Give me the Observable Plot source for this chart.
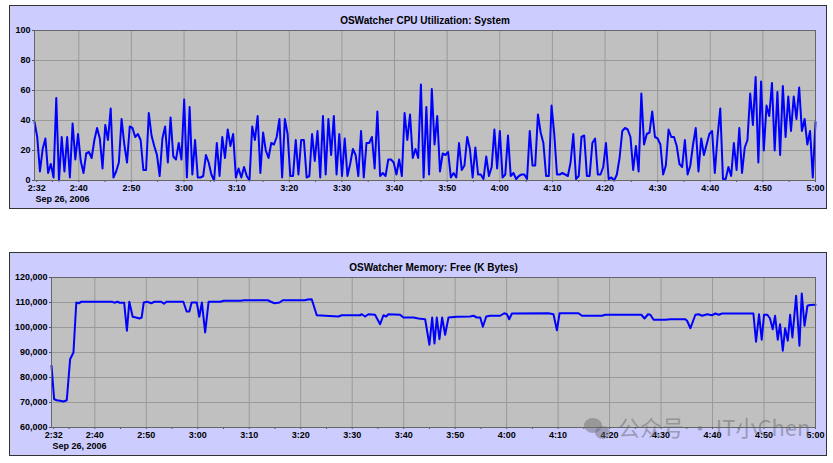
<!DOCTYPE html>
<html><head><meta charset="utf-8">
<script src="https://cdn.jsdelivr.net/npm/d3@7"></script>
<script src="https://cdn.jsdelivr.net/npm/@observablehq/plot@0.6"></script>
<style>
body{margin:0;background:#fff;width:833px;height:463px;position:relative;overflow:hidden;font-family:"Liberation Sans",Arial,sans-serif;}
.panel{position:absolute;left:9px;width:818px;height:204px;box-sizing:border-box;border:1px solid #333;background:#ccccff;}
.panel svg{position:absolute;left:0;top:0;}
#wm{position:absolute;left:618px;top:414px;font-family:"Noto Sans CJK SC",sans-serif;font-size:22px;line-height:24px;color:rgba(105,105,105,0.5);white-space:nowrap;}
.wmc{position:absolute;border-radius:50%;background:rgba(105,105,105,0.45);}
</style></head><body>
<div class="panel" id="p1" style="top:5px"></div>
<div class="panel" id="p2" style="top:252px"></div>
<div class="wmc" style="left:584px;top:418px;width:18px;height:15px"></div>
<div class="wmc" style="left:595px;top:426px;width:15px;height:13px"></div>
<div id="wm">公众号 · IT小Chen</div>
<script>
// ---------- data ----------
const chartDate = "Sep 26, 2006";
const cpuTitle = "OSWatcher CPU Utilization: System";
const memTitle = "OSWatcher Memory: Free (K Bytes)";
const cpuFirst = "2:31:35";   // first sample (left edge)
const cpuLast = "5:00:00";    // last sample (right edge)
const cpuValues = [
39,29,6,21,28,5,11,2,55,0,
29,6,29,2,38,14,31,13,5,18,
19,15,27,35,28,8,37,27,48,2,
6,12,41,24,12,36,35,29,31,27,
7,7,45,30,23,17,3,28,36,12,
42,16,14,25,14,54,2,49,4,27,
2,2,3,17,12,4,0,25,3,29,
15,34,23,31,2,8,2,9,3,0,
36,27,43,5,32,20,15,25,24,29,
41,2,41,31,3,3,27,4,27,27,
2,3,31,13,33,2,43,4,41,17,
43,4,31,3,28,3,11,21,17,3,
33,2,25,25,29,8,46,3,5,3,
14,14,12,4,14,3,45,27,44,15,
21,15,
64,2,49,4,61,24,43,6,18,17,
19,2,5,2,25,7,10,29,21,2,
22,4,4,1,16,3,9,34,8,33,
2,4,30,3,5,1,3,4,4,1,
33,10,10,44,32,25,3,3,50,31,
4,4,5,4,3,12,31,1,3,29,
30,3,3,25,28,4,4,9,25,1,
2,0,4,15,33,35,34,29,7,23,
6,58,24,31,32,46,29,28,24,4,
10,34,29,29,23,11,9,27,4,10,
24,35,6,28,17,24,31,33,5,29,
48,1,1,9,3,25,7,35,5,22,
27,58,37,69,12,66,20,50,43,65,
20,59,17,63,29,56,33,56,41,62,
33,41,24,33,2,39
];
const memTimes = [
"2:31:35","2:32:06","2:32:36","2:33:15","2:33:54","2:34:33","2:35:12","2:35:51","2:36:24","2:36:51",
"2:37:24","2:43:24","2:43:45","2:44:24","2:44:51","2:45:42","2:46:14","2:46:42","2:47:21","2:48:00",
"2:48:40","2:49:06","2:49:30","2:50:12","2:50:57","2:51:36","2:52:54","2:53:26","2:53:54","2:57:12",
"2:57:50","2:58:22","2:58:48","2:59:48","3:00:18","3:00:48","3:01:26","3:02:06","3:04:24","3:05:03",
"3:08:18","3:09:00","3:13:36","3:14:06","3:14:54","3:15:54","3:16:30","3:20:48","3:21:24","3:22:08",
"3:23:07","3:27:18","3:27:58","3:31:30","3:31:52","3:32:30","3:33:09","3:34:26","3:35:25","3:36:04",
"3:36:35","3:37:02","3:39:18","3:39:57","3:41:54","3:42:52","3:44:10","3:45:00","3:45:32","3:45:59",
"3:46:26","3:46:57","3:47:28","3:48:03","3:48:42","3:50:20","3:52:54","3:53:33","3:54:13","3:54:52",
"3:55:23","3:56:02","3:56:48","3:58:45","3:59:32","4:00:03","4:00:30","4:01:01","4:08:08","4:09:06",
"4:09:46","4:10:17","4:13:58","4:14:38","4:18:30","4:19:10","4:26:10","4:26:48","4:27:28","4:27:55",
"4:28:33","4:30:50","4:31:48","4:34:43","4:35:03","4:35:42","4:36:40","4:37:19","4:37:58","4:38:56",
"4:39:54","4:40:33","4:41:12","4:41:51","4:47:56","4:48:27","4:49:02","4:49:33","4:50:00","4:50:39",
"4:51:10","4:51:41","4:52:09","4:52:40","4:53:07","4:53:39","4:54:06","4:54:37","4:55:04","4:55:31",
"4:56:14","4:56:53","4:57:20","4:57:52","4:58:26","4:58:58","5:00:00"
];
const memValues = [
84700,71300,70900,70700,70400,70900,87300,90000,110000,109700,
110300,110300,109900,110300,109900,109900,98700,110300,104300,104000,
103600,104000,110000,110300,109700,110300,110300,109500,110300,110300,
106400,106400,110000,110000,104300,110000,98000,110300,110300,110700,
110700,110900,110900,110400,109700,110000,110900,110900,111200,111300,
104900,104400,104900,104900,105300,104400,105300,105100,101300,104900,
104400,105300,105100,104000,104000,103600,103300,93100,104000,93600,
104000,95300,104000,97100,104000,104300,104400,104700,104000,104000,
100300,104400,104700,104700,105700,105300,103300,105600,105700,105300,
98900,105700,105700,104700,104700,105100,105100,103600,105300,105100,
103100,103100,103300,103300,102700,99700,105100,105300,104700,105300,
104900,105600,105100,105600,105600,94300,105300,95100,105100,105100,
103600,99300,104700,95100,101300,90700,99700,94700,105100,96000,
112700,92700,113600,100700,108700,109000,109100
];
const xMajorTicks = ["2:40","2:50","3:00","3:10","3:20","3:30","3:40","3:50","4:00","4:10","4:20","4:30","4:40","4:50","5:00"];
const xMinorTicks = ["2:35","2:45","2:55","3:05","3:15","3:25","3:35","3:45","3:55","4:05","4:15","4:25","4:35","4:45","4:55"];
const xFirstTick = "2:32";
const cpuYTicks = [0,20,40,60,80,100];
const memYTicks = [60000,70000,80000,90000,100000,110000,120000];

// ---------- helpers ----------
function at(s){const p=s.split(":").map(Number);return new Date(2006,8,26,p[0],p[1],p[2]||0);}
const tStart = at(cpuFirst), tEnd = at(cpuLast);
const n = cpuValues.length;
const cpuData = cpuValues.map((v,i)=>({t:new Date(+tStart + i*(tEnd - tStart)/(n-1)), v}));
const memData = memTimes.map((s,i)=>({t:at(s), v:memValues[i]}));
const fmt = d3.timeFormat("%-H:%M");
const majorDates = xMajorTicks.map(at);
const labelled = new Set([xFirstTick, ...xMajorTicks]);
const allTicks = [at(xFirstTick), ...majorDates, ...xMinorTicks.map(at)];

function panel(data, title, yTicks, yFmt, marginLeft){
  const yDom = [yTicks[0], yTicks[yTicks.length-1]];
  return Plot.plot({
    width:816, height:202,
    marginLeft, marginRight:11, marginTop:24, marginBottom:28,
    style:{background:"transparent", fontFamily:"'Liberation Sans', Arial, sans-serif", fontSize:"9px", fontWeight:"bold", color:"#000", overflow:"visible"},
    x:{type:"time", domain:[tStart, tEnd], label:null},
    y:{domain:yDom, label:null},
    marks:[
      Plot.frame({fill:"#c0c0c0", stroke:"none"}),
      Plot.gridX(majorDates, {stroke:"#999", strokeOpacity:1, strokeWidth:1}),
      Plot.gridY(yTicks.slice(1,-1), {stroke:"#999", strokeOpacity:1, strokeWidth:1}),
      Plot.axisX(allTicks, {tickSize:2, tickPadding:2, stroke:"#555", label:null, tickFormat:d=>labelled.has(fmt(d))?fmt(d):""}),
      Plot.axisY(yTicks, {tickSize:2, tickPadding:2, stroke:"#555", label:null, tickFormat:yFmt}),
      Plot.lineY(data, {x:"t", y:"v", stroke:"#0000ff", strokeWidth:2, curve:"linear"}),
      Plot.frame({stroke:"#666", strokeWidth:1}),
      Plot.text([title], {frameAnchor:"top", dy:-13.5, fontSize:10, fontWeight:"bold", fill:"#000"}),
      Plot.text([chartDate], {frameAnchor:"bottom-left", textAnchor:"start", dx:1, dy:21.5, fontSize:9, fontWeight:"bold", fill:"#000"})
    ]
  });
}
document.getElementById("p1").appendChild(panel(cpuData, cpuTitle, cpuYTicks, d3.format("d"), 24));
document.getElementById("p2").appendChild(panel(memData, memTitle, memYTicks, d3.format(","), 41));
</script>
</body></html>
